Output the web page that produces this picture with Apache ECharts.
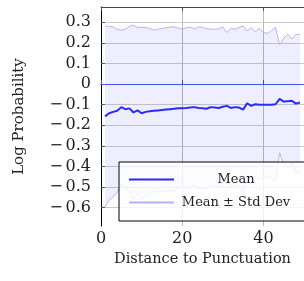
<!DOCTYPE html>
<html>
<head>
<meta charset="utf-8">
<script src="https://cdn.jsdelivr.net/npm/echarts@6/dist/echarts.min.js"></script>
<style>
  html, body { margin: 0; padding: 0; background: #fff; }
  #chart { width: 304px; height: 281px; }
</style>
</head>
<body>
<div id="chart"></div>
<script>
// distance to punctuation (x)
const distance = [1, 2, 3, 4, 5, 6, 7, 8, 9, 10, 11, 12, 13, 14, 15, 16, 17, 18, 19, 20,
  21, 22, 23, 24, 25, 26, 27, 28, 29, 30, 31, 32, 33, 34, 35, 36, 37, 38, 39, 40,
  41, 42, 43, 44, 45, 46, 47, 48, 49]
// mean log probability
const meanLogProb = [-0.157, -0.142, -0.135, -0.130, -0.112, -0.122, -0.118, -0.138, -0.128, -0.142,
  -0.135, -0.132, -0.130, -0.128, -0.126, -0.124, -0.122, -0.120, -0.117, -0.117,
  -0.116, -0.114, -0.112, -0.116, -0.118, -0.120, -0.112, -0.114, -0.116, -0.110,
  -0.106, -0.116, -0.112, -0.114, -0.124, -0.093, -0.106, -0.098, -0.100, -0.100,
  -0.100, -0.100, -0.098, -0.072, -0.085, -0.083, -0.081, -0.095, -0.090]
// standard deviation
const stdDev = [0.439, 0.422, 0.413, 0.395, 0.374, 0.388, 0.398, 0.424, 0.403, 0.417,
  0.409, 0.402, 0.392, 0.394, 0.396, 0.397, 0.398, 0.398, 0.389, 0.384,
  0.389, 0.391, 0.379, 0.394, 0.393, 0.390, 0.378, 0.380, 0.384, 0.388,
  0.356, 0.386, 0.378, 0.389, 0.406, 0.351, 0.379, 0.352, 0.370, 0.351,
  0.346, 0.360, 0.373, 0.262, 0.307, 0.325, 0.300, 0.337, 0.330]
const yTicks = [-0.6, -0.5, -0.4, -0.3, -0.2, -0.1, 0, 0.1, 0.2, 0.3]

const serif = 'DejaVu Serif'

// upper / lower curves of the band
let upper = distance.map((d, i) => [d, meanLogProb[i] + stdDev[i]])
let lower = distance.map((d, i) => [d, meanLogProb[i] - stdDev[i]])
let band = distance.map((d, i) => [d, lower[i][1], upper[i][1]])
let mean = distance.map((d, i) => [d, meanLogProb[i]])

let chart = echarts.init(document.getElementById('chart'))

// fill between mean-std and mean+std
function renderBand (params, api) {
  if (params.dataIndex !== 0) return
  let pts = []
  for (let i = 0; i < band.length; i++) pts.push(api.coord([band[i][0], band[i][2]]))
  for (let i = band.length - 1; i >= 0; i--) pts.push(api.coord([band[i][0], band[i][1]]))
  return {
    type: 'polygon',
    shape: { points: pts },
    style: { fill: 'rgba(0,0,255,0.068)', stroke: null }
  }
}

const option = {
  animation: false,
  textStyle: { fontFamily: serif },
  grid: { left: 101, top: 7, width: 208.5, height: 219 },
  legend: {
    data: ['Mean', 'Mean ± Std Dev'],
    orient: 'vertical',
    left: 119,
    top: 162,
    padding: [11, 60, 12, 9],
    itemWidth: 45,
    itemHeight: 14,
    itemGap: 10,
    itemStyle: { opacity: 0 },
    backgroundColor: 'rgba(255,255,255,0.8)',
    borderColor: '#000',
    borderWidth: 1,
    borderRadius: 0,
    formatter: name => '{c|' + name + '}',
    textStyle: {
      fontFamily: serif,
      fontSize: 13,
      color: '#222',
      rich: { c: { width: 114, align: 'center', fontFamily: serif, fontSize: 13, color: '#222' } }
    }
  },
  xAxis: [{
    type: 'value',
    min: 0,
    max: 50,
    interval: 20,
    name: 'Distance to Punctuation',
    nameLocation: 'middle',
    nameGap: 24,
    nameTextStyle: { fontFamily: serif, fontSize: 14.5, color: '#222' },
    axisLine: { lineStyle: { color: '#000', width: 1 } },
    axisTick: { inside: true, length: 4, lineStyle: { color: '#555' } },
    axisLabel: { margin: 5, fontFamily: serif, fontSize: 16, color: '#222', showMaxLabel: false },
    splitLine: { show: true, lineStyle: { color: '#bbb', width: 1 } }
  }, {
    type: 'value',
    position: 'top',
    min: 0,
    max: 50,
    interval: 20,
    axisLine: { show: true, onZero: false, lineStyle: { color: '#444', width: 1 } },
    axisTick: { show: true, inside: true, length: 4, lineStyle: { color: '#555' } },
    axisLabel: { show: false },
    splitLine: { show: false }
  }],
  yAxis: {
    type: 'value',
    min: -0.689,
    max: 0.374,
    name: 'Log Probability',
    nameLocation: 'middle',
    nameGap: 74,
    nameTextStyle: { fontFamily: serif, fontSize: 15, color: '#222' },
    axisLine: { show: true, onZero: false, lineStyle: { color: '#000', width: 1 } },
    axisTick: { inside: true, length: 4, customValues: yTicks, lineStyle: { color: '#555' } },
    axisLabel: {
      margin: 10,
      fontFamily: serif,
      fontSize: 16,
      color: '#222',
      customValues: yTicks,
      formatter: v => String(Math.round(v * 10) / 10).replace('-', '\u2212\u2006')
    },
    splitLine: { show: true, lineStyle: { color: '#ccc', width: 1 } }
  },
  series: [
    {
      name: 'band',
      type: 'custom',
      data: band,
      encode: { x: 0, y: [1, 2] },
      renderItem: renderBand,
      silent: true,
      z: 1
    },
    {
      name: 'Mean ± Std Dev',
      type: 'line',
      data: upper,
      symbol: 'none',
      color: '#b3b3ff',
      lineStyle: { color: '#b3b3ff', width: 1 }
    },
    {
      name: 'Mean ± Std Dev',
      type: 'line',
      data: lower,
      symbol: 'none',
      color: '#b3b3ff',
      lineStyle: { color: '#b3b3ff', width: 1 }
    },
    {
      name: 'Mean',
      type: 'line',
      data: mean,
      symbol: 'none',
      color: '#2a2aff',
      lineStyle: { color: '#2a2aff', width: 2 },
      markLine: {
        silent: true,
        symbol: 'none',
        label: { show: false },
        lineStyle: { color: '#5050ff', width: 1.2, type: 'solid' },
        data: [{ yAxis: 0 }]
      },
      z: 5
    }
  ]
}

chart.setOption(option)
</script>
</body>
</html>
